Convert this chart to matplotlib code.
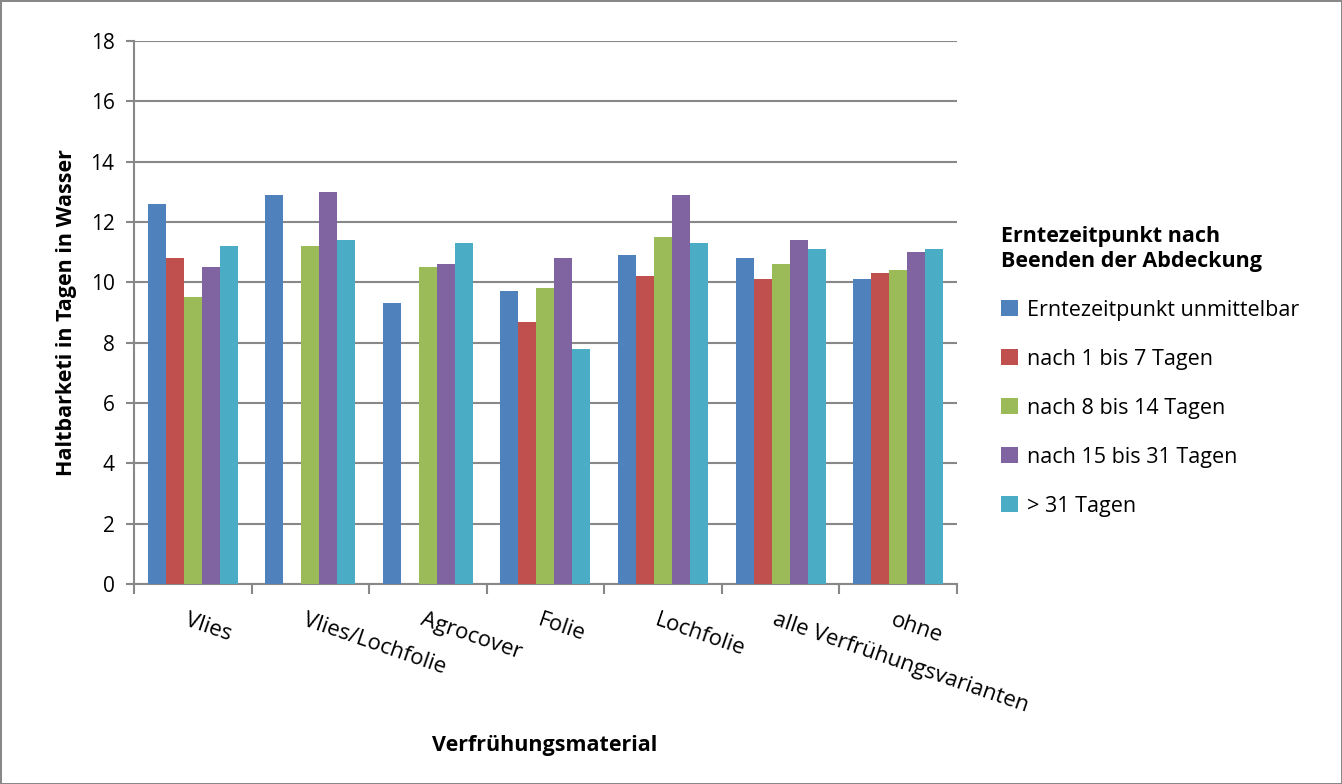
import numpy as np
import matplotlib
matplotlib.use('Agg')
import matplotlib.pyplot as plt

plt.rcParams['font.family'] = ['Open Sans', 'DejaVu Sans']

# Daten
kategorien = ['Vlies', 'Vlies/Lochfolie', 'Agrocover', 'Folie', 'Lochfolie',
              'alle Verfrühungsvarianten', 'ohne']
serien = ['Erntezeitpunkt unmittelbar', 'nach 1 bis 7 Tagen', 'nach 8 bis 14 Tagen',
          'nach 15 bis 31 Tagen', '> 31 Tagen']
unmittelbar = [12.6, 12.9, 9.3, 9.7, 10.9, 10.8, 10.1]
tage_1_7 = [10.8, np.nan, np.nan, 8.7, 10.2, 10.1, 10.3]
tage_8_14 = [9.5, 11.2, 10.5, 9.8, 11.5, 10.6, 10.4]
tage_15_31 = [10.5, 13.0, 10.6, 10.8, 12.9, 11.4, 11.0]
tage_31 = [11.2, 11.4, 11.3, 7.8, 11.3, 11.1, 11.1]
werte = [unmittelbar, tage_1_7, tage_8_14, tage_15_31, tage_31]
farben = ['#4F81BD', '#C0504D', '#9BBB59', '#8064A2', '#4BACC6']

fig = plt.figure(figsize=(13.42, 7.84), dpi=100)
fig.patch.set_edgecolor('#888888')
fig.patch.set_linewidth(2)
ax = fig.add_axes([0.0998, 0.2551, 0.6133, 0.6926])

x = np.arange(len(kategorien))
breite = 0.153
for i, (name, w, f) in enumerate(zip(serien, werte, farben)):
    ax.bar(x + (i - 2) * breite, w, breite, color=f, label=name, zorder=3)

ax.set_xlim(-0.5, len(kategorien) - 0.5)
ax.set_ylim(0, 18)
ax.set_yticks(range(0, 19, 2))
ax.yaxis.grid(True, color='#888888', linewidth=1.5, zorder=0)
for s in ['top', 'right']:
    ax.spines[s].set_visible(False)
for s in ['left', 'bottom']:
    ax.spines[s].set_color('#888888')
    ax.spines[s].set_linewidth(1.5)

ax.set_xticks(np.arange(-0.5, len(kategorien), 1.0))
ax.set_xticklabels([])
ax.tick_params(axis='x', direction='out', length=7, color='#888888', width=1.5)
ax.tick_params(axis='y', direction='out', length=6, color='#888888', width=1.5,
               labelsize=15, pad=8)

for xi, k in zip(x, kategorien):
    ax.text(xi - 0.03, -0.85, k, rotation=-19, rotation_mode='anchor',
            ha='left', va='top', fontsize=16)

ax.set_ylabel('Haltbarketi in Tagen in Wasser', fontsize=15.5, fontweight='bold', labelpad=10)
fig.text(545 / 1342, 1 - 745 / 784, 'Verfrühungsmaterial', ha='center', va='center',
         fontsize=15.5, fontweight='bold')

leg = fig.legend(loc='upper left', bbox_to_anchor=(982 / 1342, 1 - 207 / 784),
                 frameon=False, fontsize=15.5, title='Erntezeitpunkt nach\nBeenden der Abdeckung',
                 title_fontproperties={'weight': 'bold', 'size': 15.5},
                 handlelength=0.75, handleheight=0.75, handletextpad=0.45, labelspacing=1.3)
leg._legend_box.align = 'left'

fig.savefig('out.png', dpi=100, edgecolor=fig.get_edgecolor())
